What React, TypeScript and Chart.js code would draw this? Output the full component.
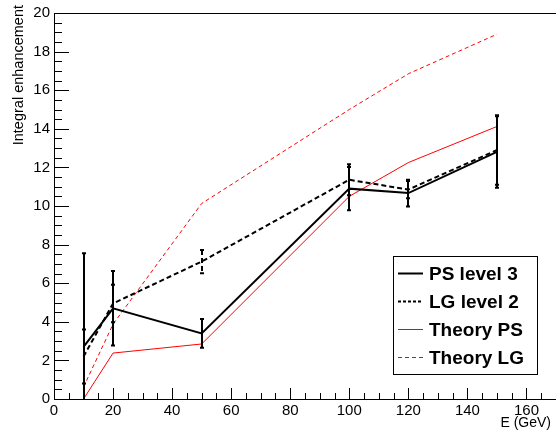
import { useEffect, useRef } from 'react';
import { Chart, registerables } from 'chart.js';

Chart.register(...registerables);

const energies = [10, 20, 50, 100, 120, 150];
const psLevel3 = [2.7, 4.7, 3.4, 10.9, 10.67, 12.8];
const psLevel3Err = [4.85, 1.93, 0.75, 1.12, 0.69, 1.85];
const lgLevel2 = [2.2, 4.95, 7.12, 11.36, 10.85, 12.9];
const lgLevel2Err = [1.4, 0.97, 0.6, 0.8, 0.45, 1.8];
const theoryPS = [0, 2.38, 2.85, 10.5, 12.25, 14.12];
const theoryLG = [0.62, 3.88, 10.13, 15.0, 16.85, 18.9];

const xTickValues = [0, 20, 40, 60, 80, 100, 120, 140, 160];
const yTickValues = [0, 2, 4, 6, 8, 10, 12, 14, 16, 18, 20];
const xTitle = 'E (GeV)';
const yTitle = 'Integral enhancement';

const FONT = "'Liberation Sans', Arial, sans-serif";

const toPoints = (ys: number[]) => energies.map((x, i) => ({ x, y: ys[i] }));

export default function App() {
  const ref = useRef<HTMLCanvasElement>(null);

  useEffect(() => {
    const canvas = ref.current;
    if (!canvas) return;

    const errorBars = {
      id: 'errorBars',
      afterDatasetsDraw(chart: any) {
        const { ctx, chartArea: a, scales } = chart;
        const xs = scales.x;
        const ys = scales.y;
        ctx.save();
        ctx.beginPath();
        ctx.rect(a.left, a.top, a.right - a.left, a.bottom - a.top);
        ctx.clip();
        chart.data.datasets.forEach((ds: any) => {
          if (!ds.errors) return;
          ctx.strokeStyle = ds.borderColor;
          ctx.lineWidth = ds.borderWidth;
          ds.data.forEach((p: any, i: number) => {
            const e = ds.errors[i];
            const px = Math.round(xs.getPixelForValue(p.x));
            const yTop = ys.getPixelForValue(p.y + e);
            const yBot = ys.getPixelForValue(p.y - e);
            ctx.setLineDash(ds.borderDash || []);
            ctx.beginPath();
            ctx.moveTo(px, yTop);
            ctx.lineTo(px, yBot);
            ctx.stroke();
            ctx.setLineDash([]);
            ctx.beginPath();
            ctx.moveTo(px - 2, yTop);
            ctx.lineTo(px + 2, yTop);
            ctx.moveTo(px - 2, yBot);
            ctx.lineTo(px + 2, yBot);
            ctx.stroke();
          });
        });
        ctx.restore();
      },
    };

    const frame = {
      id: 'rootFrame',
      afterDraw(chart: any) {
        const { ctx, chartArea: a, scales } = chart;
        const xs = scales.x;
        const ys = scales.y;
        ctx.save();
        ctx.strokeStyle = '#000';
        ctx.lineWidth = 1;
        ctx.setLineDash([]);
        ctx.beginPath();
        ctx.moveTo(a.left, a.top + 0.5);
        ctx.lineTo(a.right, a.top + 0.5);
        ctx.moveTo(a.left + 0.5, a.top);
        ctx.lineTo(a.left + 0.5, a.bottom + 1);
        ctx.moveTo(a.left, a.bottom + 0.5);
        ctx.lineTo(a.right, a.bottom + 0.5);
        const xStep = xTickValues[1] - xTickValues[0];
        for (let v = xs.min; v <= xs.max + 1e-9; v += xStep / 4) {
          const px = Math.round(xs.getPixelForValue(v)) + 0.5;
          const major = Math.abs(v % xStep) < 1e-9;
          ctx.moveTo(px, a.bottom);
          ctx.lineTo(px, a.bottom - (major ? 11 : 6));
        }
        const yStep = yTickValues[1] - yTickValues[0];
        for (let v = ys.min; v <= ys.max + 1e-9; v += yStep / 4) {
          const py = Math.round(ys.getPixelForValue(v)) + 0.5;
          const major = Math.abs(v % yStep) < 1e-9;
          ctx.moveTo(a.left, py);
          ctx.lineTo(a.left + (major ? 15 : 8), py);
        }
        ctx.stroke();

        ctx.fillStyle = '#000';
        ctx.font = `14px ${FONT}`;
        ctx.textAlign = 'right';
        ctx.textBaseline = 'alphabetic';
        ctx.fillText(xTitle, 551, 427);
        ctx.save();
        ctx.translate(23, 5);
        ctx.rotate(-Math.PI / 2);
        ctx.font = `14.5px ${FONT}`;
        ctx.textAlign = 'right';
        ctx.fillText(yTitle, 0, 0);
        ctx.restore();

        const lx = 393.5;
        const ly = 256.5;
        const lw = 144;
        const lh = 118;
        ctx.fillStyle = '#fff';
        ctx.fillRect(lx, ly, lw, lh);
        ctx.strokeStyle = '#000';
        ctx.lineWidth = 1;
        ctx.strokeRect(lx, ly, lw, lh);
        ctx.font = `bold 19px ${FONT}`;
        ctx.textAlign = 'left';
        ctx.textBaseline = 'middle';
        chart.data.datasets.forEach((ds: any, i: number) => {
          const cy = 273.5 + i * 28;
          ctx.strokeStyle = ds.borderColor;
          ctx.lineWidth = ds.borderWidth;
          ctx.setLineDash(ds.legendDash || ds.borderDash || []);
          ctx.beginPath();
          ctx.moveTo(398, cy);
          ctx.lineTo(423, cy);
          ctx.stroke();
          ctx.setLineDash([]);
          ctx.fillStyle = '#000';
          ctx.fillText(ds.label, 429, cy + 1);
        });
        ctx.restore();
      },
    };

    const chart = new Chart(canvas, {
      type: 'line',
      data: {
        datasets: [
          {
            label: 'PS level 3',
            data: toPoints(psLevel3),
            errors: psLevel3Err,
            borderColor: '#000000',
            borderWidth: 2,
            pointRadius: 0,
            tension: 0,
            fill: false,
          } as any,
          {
            label: 'LG level 2',
            data: toPoints(lgLevel2),
            errors: lgLevel2Err,
            borderColor: '#000000',
            borderWidth: 2,
            borderDash: [5, 3],
            legendDash: [3, 2],
            pointRadius: 0,
            tension: 0,
            fill: false,
          } as any,
          {
            label: 'Theory PS',
            data: toPoints(theoryPS),
            borderColor: '#ff0000',
            borderWidth: 1,
            pointRadius: 0,
            tension: 0,
            fill: false,
          },
          {
            label: 'Theory LG',
            data: toPoints(theoryLG),
            borderColor: '#ff0000',
            borderWidth: 1,
            borderDash: [4, 3],
            pointRadius: 0,
            tension: 0,
            fill: false,
          },
        ],
      },
      options: {
        animation: false,
        responsive: false,
        maintainAspectRatio: false,
        layout: { padding: { top: 6, left: 0, right: 0, bottom: 0 } },
        plugins: {
          legend: { display: false },
          tooltip: { enabled: false },
        },
        scales: {
          x: {
            type: 'linear',
            min: 0,
            max: 170,
            grid: { display: false, drawTicks: false },
            border: { display: false },
            ticks: {
              color: '#000',
              font: { family: FONT, size: 15 },
              padding: 3,
              maxRotation: 0,
            },
            afterBuildTicks: (s: any) => {
              s.ticks = xTickValues.map((v) => ({ value: v }));
            },
            afterFit: (s: any) => {
              s.height = 40;
            },
          },
          y: {
            type: 'linear',
            min: 0,
            max: 20,
            grid: { display: false, drawTicks: false },
            border: { display: false },
            ticks: {
              color: '#000',
              font: { family: FONT, size: 15 },
              padding: 4,
            },
            afterBuildTicks: (s: any) => {
              s.ticks = yTickValues.map((v) => ({ value: v }));
            },
            afterFit: (s: any) => {
              s.width = 54;
            },
          },
        },
      },
      plugins: [errorBars, frame],
    });

    return () => chart.destroy();
  }, []);

  return (
    <div style={{ position: 'fixed', left: 0, top: 0, width: 556, height: 439, background: '#fff' }}>
      <canvas ref={ref} width={556} height={439} style={{ width: 556, height: 439, display: 'block' }} />
    </div>
  );
}
